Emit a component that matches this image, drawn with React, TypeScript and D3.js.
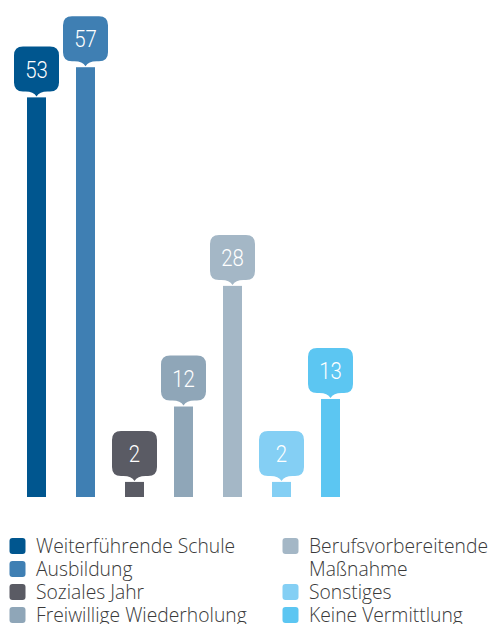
import React from "react";
import * as d3 from "d3";

const categories = [
  "Weiterführende Schule",
  "Ausbildung",
  "Soziales Jahr",
  "Freiwillige Wiederholung",
  "Berufsvorbereitende Maßnahme",
  "Sonstiges",
  "Keine Vermittlung",
];
const values = [53, 57, 2, 12, 28, 2, 13];
const colors = ["#00568f", "#3f7fb3", "#5a5b64", "#8fa6b8", "#a4b7c6", "#84cff4", "#5cc6f2"];
const legendLeft = [0, 1, 2, 3];
const legendRight = [4, 5, 6];

const W = 493;
const H = 624;

function bubblePath(cx: number, bottom: number, tipY: number, w: number, h: number, r: number) {
  const l = cx - w / 2;
  const rr = cx + w / 2;
  const t = bottom - h;
  const pw = 11;
  return [
    `M${l + r},${t}`,
    `L${rr - r},${t}`,
    `Q${rr},${t} ${rr},${t + r}`,
    `L${rr},${bottom - r}`,
    `Q${rr},${bottom} ${rr - r},${bottom}`,
    `L${cx + pw},${bottom}`,
    `Q${cx + 3},${bottom} ${cx},${tipY}`,
    `Q${cx - 3},${bottom} ${cx - pw},${bottom}`,
    `L${l + r},${bottom}`,
    `Q${l},${bottom} ${l},${bottom - r}`,
    `L${l},${t + r}`,
    `Q${l},${t} ${l + r},${t}`,
    "Z",
  ].join(" ");
}

export default function App() {
  const x = d3
    .scaleBand<string>()
    .domain(categories)
    .range([12, 12 + 343])
    .paddingInner(30 / 49)
    .paddingOuter(15 / 49);
  const y = d3.scaleLinear().domain([0, 57]).range([497, 497 - 57 * 7.54]);
  const bw = x.bandwidth();

  const legendItems = [
    ...legendLeft.map((i, k) => ({ i, col: 0, row: k })),
    ...legendRight.map((i, k) => ({ i, col: 1, row: k === 0 ? 0 : k + 1 })),
  ];

  return (
    <svg
      width={W}
      height={H}
      style={{ position: "absolute", left: 0, top: 0, background: "#fff" }}
    >
      {values.map((v, i) => {
        const cx = (x(categories[i]) as number) + bw / 2;
        const top = y(v);
        return (
          <g key={i}>
            <rect x={x(categories[i])} y={top} width={bw} height={y(0) - top} fill={colors[i]} />
            <path d={bubblePath(cx, top - 6, top - 1, 45, 45, 9)} fill={colors[i]} />
            <text
              x={cx}
              y={top - 6 - 22.5}
              dy="0.36em"
              textAnchor="middle"
              fill="#fff"
              fontFamily="Roboto, sans-serif"
              fontWeight={300}
              fontSize={24}
              transform={`translate(${cx},0) scale(0.85,1) translate(${-cx},0)`}
            >
              {v}
            </text>
          </g>
        );
      })}
      {legendItems.map(({ i, col, row }) => {
        const lx = col === 0 ? 9.5 : 282.5;
        const cy = 546 + row * 23;
        const label = categories[i];
        const lines = i === 4 ? ["Berufsvorbereitende", "Maßnahme"] : [label];
        return (
          <g key={i}>
            <rect x={lx} y={cy - 8} width={16} height={16} rx={3} fill={colors[i]} />
            {lines.map((ln, k) => (
              <text
                key={k}
                x={lx + 26.5}
                y={cy + k * 23}
                dy="0.35em"
                fill="#3a3a3a"
                fontFamily="'Open Sans', sans-serif"
                fontWeight={300}
                fontSize={19.3}
              >
                {ln}
              </text>
            ))}
          </g>
        );
      })}
    </svg>
  );
}
